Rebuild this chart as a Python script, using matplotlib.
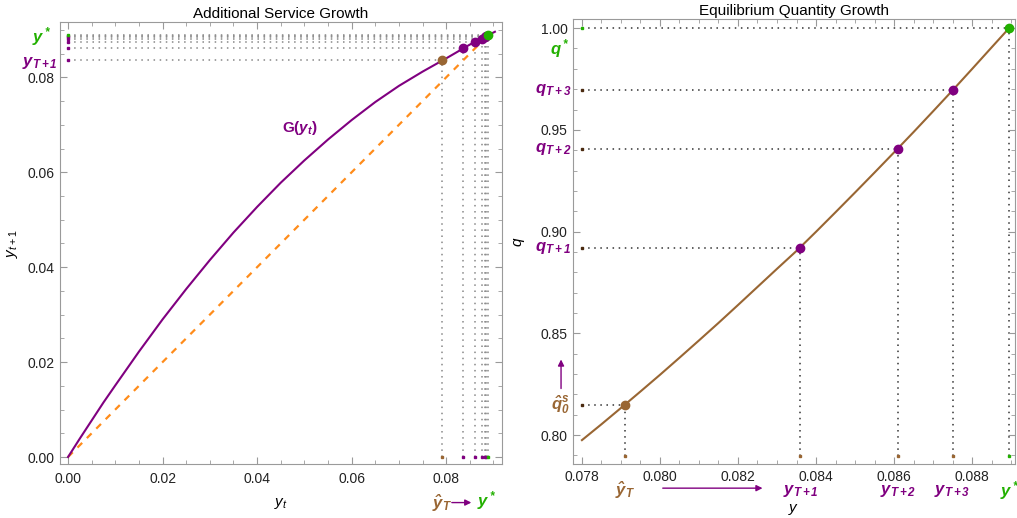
import matplotlib
matplotlib.use("Agg")
import matplotlib.pyplot as plt
from matplotlib.ticker import MultipleLocator

plt.rcParams['font.family'] = ['Liberation Sans', 'DejaVu Sans']
plt.rcParams['mathtext.fontset'] = 'custom'
plt.rcParams['mathtext.rm'] = 'Liberation Sans'
plt.rcParams['mathtext.it'] = 'Liberation Sans:italic'
plt.rcParams['mathtext.bf'] = 'Liberation Sans:bold'
plt.rcParams['mathtext.bfit'] = 'Liberation Sans:italic:bold'

PURPLE = '#800080'
BROWN = '#996633'
GREEN = '#22b000'
ORANGE = '#ff8c1a'
FRAME = '#9a9a9a'

# left panel: G(y_t) curve
g_x = [0.0, 0.0025, 0.005, 0.0075, 0.01, 0.015, 0.02, 0.025, 0.03, 0.035, 0.04,
       0.045, 0.05, 0.055, 0.06, 0.065, 0.07, 0.075, 0.08, 0.085, 0.0903]
g_y = [0.0, 0.0039, 0.0077, 0.0115, 0.0151, 0.0222, 0.0290, 0.0354, 0.0415, 0.0473, 0.0527,
       0.0578, 0.0625, 0.0669, 0.0710, 0.0748, 0.0782, 0.0812, 0.0840, 0.0869, 0.0896]
# iteration y_T, y_T+1, ... and their images
it_x = [0.0791, 0.0836, 0.0861, 0.0875, 0.0881, 0.0885]
it_y = [0.0836, 0.0861, 0.0875, 0.0881, 0.0885, 0.0888]
y_star = 0.0889

# right panel: equilibrium quantity q(y)
q_x = [0.0780, 0.0785, 0.0790, 0.0795, 0.0800, 0.0805, 0.0810, 0.0815, 0.0820, 0.0825,
       0.0830, 0.0835, 0.0840, 0.0845, 0.0850, 0.0855, 0.0860, 0.0865, 0.0870, 0.0875,
       0.0880, 0.0885, 0.08895]
q_y = [0.7975, 0.8053, 0.8133, 0.8214, 0.8296, 0.8380, 0.8465, 0.8551, 0.8639, 0.8728,
       0.8817, 0.8905, 0.8999, 0.9095, 0.9192, 0.9290, 0.9389, 0.9489, 0.9591, 0.9694,
       0.9799, 0.9905, 1.0000]
pts_y = [0.0791, 0.0836, 0.0861, 0.0875, 0.08895]
pts_q = [0.8150, 0.8920, 0.9408, 0.9694, 1.0000]

fig = plt.figure(figsize=(10.17, 5.18), dpi=100)
ax1 = fig.add_axes([0.059, 0.104, 0.4346, 0.853])
ax2 = fig.add_axes([0.5634, 0.104, 0.4346, 0.859])


def style(ax):
    for s in ax.spines.values():
        s.set_color(FRAME)
    ax.tick_params(which='both', direction='in', top=True, right=True, color=FRAME,
                   labelcolor='#222222', labelsize=10)
    ax.tick_params(which='major', length=5, width=0.8)
    ax.tick_params(which='minor', length=3, width=0.6)


# ---------- left panel ----------
dot = (0, (1, 3))
for i, (xv, yv) in enumerate(zip(it_x, it_y)):
    ax1.plot([0, xv], [yv, yv], color='#888888', lw=1.1, ls=dot, zorder=1)
    ax1.plot([xv, xv], [0, yv], color='#888888', lw=1.1, ls=dot, zorder=1)
    c = BROWN if i == 0 else PURPLE
    ax1.plot([0], [yv], 's', ms=2, color=PURPLE, zorder=3)
    ax1.plot([xv], [0], 's', ms=2, color=c, zorder=3)
ax1.plot([0, y_star], [y_star, y_star], color='#888888', lw=1.1, ls=dot, zorder=1)
ax1.plot([y_star, y_star], [0, y_star], color='#888888', lw=1.1, ls=dot, zorder=1)
ax1.plot([0], [y_star], 's', ms=2, color=GREEN, zorder=3)
ax1.plot([y_star], [0], 's', ms=2, color=GREEN, zorder=3)

ax1.plot([0, y_star], [0, y_star], color=ORANGE, lw=1.6, ls=(0, (3, 3)), zorder=2)
ax1.plot(g_x, g_y, color=PURPLE, lw=1.5, zorder=2)
ax1.plot(it_x[1:], it_y[1:], 'o', ms=6, color=PURPLE, zorder=4)
ax1.plot(it_x[0], it_y[0], 'o', ms=6, color=BROWN, zorder=4)
ax1.plot(y_star, y_star, 'o', ms=6, color=GREEN, zorder=5)

ax1.set_xlim(-0.0017, 0.0918)
ax1.set_ylim(-0.0015, 0.0916)
ax1.xaxis.set_minor_locator(MultipleLocator(0.005))
ax1.yaxis.set_minor_locator(MultipleLocator(0.005))
ax1.set_xticks([0.0, 0.02, 0.04, 0.06, 0.08])
ax1.set_xticklabels(['0.00', '0.02', '0.04', '0.06', '0.08'])
ax1.set_yticks([0.0, 0.02, 0.04, 0.06, 0.08])
ax1.set_yticklabels(['0.00', '0.02', '0.04', '0.06', '0.08'])
style(ax1)
ax1.tick_params(axis='x', pad=6)
ax1.tick_params(axis='y', pad=4)
ax1.set_title('Additional Service Growth', fontsize=11, pad=3)
ax1.set_xlabel(r'$y_t$', fontsize=11, labelpad=7)
ax1.set_ylabel(r'$y_{t+1}$', fontsize=11, labelpad=5)

ax1.text(0.0491, 0.0693, r'$\mathbf{G(}\mathbfit{y_t}\mathbf{)}$', color=PURPLE,
         fontsize=11, ha='center', va='center')
ty = ax1.get_yaxis_transform()
ax1.text(-0.041, 0.0885, r'$\mathbfit{y^*}$', transform=ty, color=GREEN,
         fontsize=12, ha='center', va='center', clip_on=False)
ax1.text(-0.045, 0.0830, r'$\mathbfit{y_{T+1}}$', transform=ty, color=PURPLE,
         fontsize=12, ha='center', va='center', clip_on=False)
tx = ax1.get_xaxis_transform()
ax1.text(0.0791, -0.088, r'$\mathbfit{\hat{y}_T}$', transform=tx, color=BROWN,
         fontsize=12, ha='center', va='center', clip_on=False)
ax1.annotate('', xy=(0.0859, -0.087), xytext=(0.0806, -0.087), xycoords=tx,
             arrowprops=dict(arrowstyle='-|>', color=PURPLE, lw=1, mutation_scale=9),
             annotation_clip=False)
ax1.text(0.0886, -0.083, r'$\mathbfit{y^*}$', transform=tx, color=GREEN,
         fontsize=12, ha='center', va='center', clip_on=False)

# ---------- right panel ----------
x_left = 0.0780
q_bot = 0.7897
for i, (xv, qv) in enumerate(zip(pts_y, pts_q)):
    ax2.plot([x_left, xv], [qv, qv], color='#333333', lw=1.1, ls=dot, zorder=1)
    ax2.plot([xv, xv], [q_bot, qv], color='#333333', lw=1.1, ls=dot, zorder=1)
    last = i == len(pts_y) - 1
    ax2.plot([x_left], [qv], 's', ms=2, color=GREEN if last else '#4a2a10', zorder=3)
    ax2.plot([xv], [q_bot], 's', ms=2, color=GREEN if last else BROWN, zorder=3)

ax2.plot(q_x, q_y, color=BROWN, lw=1.5, zorder=2)
ax2.plot(pts_y[1:-1], pts_q[1:-1], 'o', ms=6, color=PURPLE, zorder=4)
ax2.plot(pts_y[0], pts_q[0], 'o', ms=6, color=BROWN, zorder=4)
ax2.plot(pts_y[-1], pts_q[-1], 'o', ms=6, color=GREEN, zorder=4)

ax2.set_xlim(0.07777, 0.0891)
ax2.set_ylim(0.7857, 1.0044)
ax2.set_xticks([0.078, 0.080, 0.082, 0.084, 0.086, 0.088])
ax2.set_xticklabels(['0.078', '0.080', '0.082', '0.084', '0.086', '0.088'])
ax2.xaxis.set_minor_locator(MultipleLocator(0.0005))
ax2.set_yticks([0.80, 0.85, 0.90, 0.95, 1.00])
ax2.set_yticklabels(['0.80', '0.85', '0.90', '0.95', '1.00'])
ax2.yaxis.set_minor_locator(MultipleLocator(0.01))
style(ax2)
ax2.tick_params(axis='x', pad=4)
ax2.tick_params(axis='y', pad=4)
ax2.set_title('Equilibrium Quantity Growth', fontsize=11, pad=3)
ax2.set_xlabel(r'$y$', fontsize=11, labelpad=13)
ax2.set_ylabel(r'$q$', fontsize=11, labelpad=10)

tx2 = ax2.get_xaxis_transform()
lbl_x = [r'$\mathbfit{\hat{y}_T}$', r'$\mathbfit{y_{T+1}}$', r'$\mathbfit{y_{T+2}}$',
         r'$\mathbfit{y_{T+3}}$', r'$\mathbfit{y^*}$']
lbl_c = [BROWN, PURPLE, PURPLE, PURPLE, GREEN]
for xv, s, c in zip(pts_y, lbl_x, lbl_c):
    ax2.text(xv, -0.060, s, transform=tx2, color=c, fontsize=12,
             ha='center', va='center', clip_on=False)
ax2.annotate('', xy=(0.0827, -0.054), xytext=(0.0800, -0.054), xycoords=tx2,
             arrowprops=dict(arrowstyle='-|>', color=PURPLE, lw=1, mutation_scale=9),
             annotation_clip=False)

ty2 = ax2.get_yaxis_transform()
lbl_q = [r'$\mathbfit{\hat{q}_0^s}$', r'$\mathbfit{q_{T+1}}$', r'$\mathbfit{q_{T+2}}$',
         r'$\mathbfit{q_{T+3}}$', r'$\mathbfit{q^*}$']
lbl_qx = [-0.028, -0.045, -0.045, -0.045, -0.030]
lbl_qoff = [0.0, 0.0, 0.0, 0.0, -0.0098]
for qv, s, c, lx, off in zip(pts_q, lbl_q, lbl_c, lbl_qx, lbl_qoff):
    ax2.text(lx, qv + off, s, transform=ty2, color=c, fontsize=12,
             ha='center', va='center', clip_on=False)
ax2.annotate('', xy=(-0.027, 0.8385), xytext=(-0.027, 0.8215), xycoords=ty2,
             arrowprops=dict(arrowstyle='-|>', color=PURPLE, lw=1, mutation_scale=9),
             annotation_clip=False)

fig.savefig('out.png', dpi=100)
